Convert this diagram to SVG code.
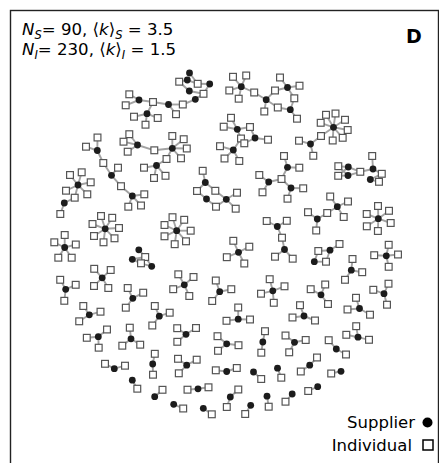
<svg xmlns="http://www.w3.org/2000/svg" xmlns:xlink="http://www.w3.org/1999/xlink" width="439" height="463" viewBox="0 0 439 463">
<style>
.t{font-family:"DejaVu Sans","Liberation Sans",sans-serif;fill:#000}
.h{font-size:16.6px}
.sub{font-size:11.5px;font-style:italic}
.it{font-style:italic}
.lg{font-size:16.5px}
.e path{stroke:#a3a3a3;stroke-width:1.9;fill:none}
</style>
<defs>
<rect id="q" x="-3.4" y="-3.4" width="6.8" height="6.8" fill="#fff" stroke="#555" stroke-width="1.2"/>
<circle id="c" r="3.4" fill="#1c1c1c"/>
</defs>
<rect x="0" y="0" width="439" height="463" fill="#fff"/>
<rect x="10.5" y="10.5" width="428" height="470" fill="none" stroke="#222" stroke-width="1.4"/>
<text class="t h" x="22" y="35"><tspan class="it">N</tspan><tspan class="sub" dy="3.5">S</tspan><tspan dy="-3.5">= 90, ⟨</tspan><tspan class="it">k</tspan><tspan>⟩</tspan><tspan class="sub" dy="3.5">S</tspan><tspan dy="-3.5"> = 3.5</tspan></text>
<text class="t h" x="22" y="55"><tspan class="it">N</tspan><tspan class="sub" dy="3.5">I</tspan><tspan dy="-3.5">= 230, ⟨</tspan><tspan class="it">k</tspan><tspan>⟩</tspan><tspan class="sub" dy="3.5">I</tspan><tspan dy="-3.5"> = 1.5</tspan></text>
<text class="t" x="406" y="43" font-size="19" font-weight="bold">D</text>
<g id="connectors" class="e">
<path d="M189.5 73L197.7 83.8"/><path d="M187.3 80L179.2 81.7"/><path d="M187.3 80L197.7 83.8"/><path d="M209.7 84L197.7 83.8"/><path d="M209.7 84L203.5 93.8"/><path d="M189.3 91L179.2 81.7"/><path d="M189.3 91L203.5 93.8"/><path d="M195.3 99.3L203.5 93.8"/><path d="M195.3 99.3L182.8 104.5"/><path d="M168.5 104.5L182.8 104.5"/><path d="M168.5 104.5L176 114.2"/><path d="M168.5 104.5L153 102"/><path d="M139 100L153 102"/><path d="M139 100L129.3 94.3"/><path d="M139 100L125.7 105.3"/><path d="M147 113.7L153 102"/><path d="M147 113.7L134 116.7"/><path d="M147 113.7L157.7 118"/><path d="M147 113.7L145.5 124.7"/>
<path d="M241.3 86.7L233 76.8"/><path d="M241.3 86.7L246.2 75.5"/><path d="M241.3 86.7L229.3 90.5"/><path d="M241.3 86.7L238.7 98.7"/><path d="M241.3 86.7L254.2 92.5"/><path d="M266.2 99.7L254.2 92.5"/><path d="M266.2 99.7L264.3 111.5"/><path d="M266.2 99.7L275 90.5"/><path d="M266.2 99.7L277.8 107.5"/><path d="M287.5 87.5L275 90.5"/><path d="M287.5 87.5L280 77.5"/><path d="M287.5 87.5L299.5 85.7"/><path d="M287.5 87.5L294.3 98.3"/><path d="M290.3 109.7L294.3 98.3"/><path d="M290.3 109.7L277.8 107.5"/><path d="M290.3 109.7L297 118.7"/>
<path d="M97.3 150.5L97.5 137.5"/><path d="M97.3 150.5L86 146.7"/><path d="M97.3 150.5L103.3 163"/><path d="M111.5 175.3L103.3 163"/><path d="M111.5 175.3L118 167.7"/><path d="M111.5 175.3L121 186.2"/><path d="M132.3 196L121 186.2"/><path d="M132.3 196L144.3 194.3"/><path d="M132.3 196L128.3 206.7"/><path d="M132.3 196L141 205.5"/>
<path d="M137.5 145L129.3 134.2"/><path d="M137.5 145L123.5 141.7"/><path d="M137.5 145L127.7 151.7"/><path d="M137.5 145L154.3 150.3"/><path d="M172.3 148.3L154.3 150.3"/><path d="M172.3 148.3L166.5 159"/><path d="M172.3 148.3L172.3 136"/><path d="M172.3 148.3L183.7 139.2"/><path d="M172.3 148.3L186.8 148.5"/><path d="M172.3 148.3L181 158.3"/><path d="M156.5 165.5L166.5 159"/><path d="M156.5 165.5L144 167.7"/><path d="M156.5 165.5L154 178"/><path d="M156.5 165.5L165.5 175.8"/>
<path d="M78 185L70 175"/><path d="M78 185L81.7 172.3"/><path d="M78 185L90.7 182.3"/><path d="M78 185L66 190.7"/><path d="M78 185L87.3 194.3"/><path d="M78 185L74.7 197.7"/><path d="M64.3 203L74.7 197.7"/><path d="M64.3 203L60.3 214"/>
<path d="M105.2 228.8L101 216"/><path d="M105.2 228.8L112.2 217.8"/><path d="M105.2 228.8L92.5 224"/><path d="M105.2 228.8L119 228"/><path d="M105.2 228.8L94 236"/><path d="M105.2 228.8L114.5 238.3"/><path d="M105.2 228.8L103.5 242.3"/>
<path d="M64.7 247.5L64.7 235"/><path d="M64.7 247.5L54.3 242.3"/><path d="M64.7 247.5L75.8 244.5"/><path d="M64.7 247.5L58.3 257.7"/><path d="M64.7 247.5L71.7 257.7"/>
<path d="M237.3 129.3L231 117.8"/><path d="M237.3 129.3L223.7 126.7"/><path d="M237.3 129.3L250 127"/><path d="M237.3 129.3L241 138.5"/><path d="M255 138L250 127"/><path d="M255 138L244.3 143.3"/><path d="M255 138L268 139.7"/><path d="M233.3 150L241 138.5"/><path d="M233.3 150L220 146.2"/><path d="M233.3 150L224.5 158.5"/><path d="M233.3 150L239.3 161"/>
<path d="M310.5 144L299 140.7"/><path d="M310.5 144L313.3 155.8"/><path d="M310.5 144L321 136"/><path d="M333.5 127.3L320.7 122.8"/><path d="M333.5 127.3L326 114.8"/><path d="M333.5 127.3L335.5 113.5"/><path d="M333.5 127.3L345 119.8"/><path d="M333.5 127.3L347.7 130"/><path d="M333.5 127.3L342.7 137.8"/><path d="M333.5 127.3L332.7 140.5"/><path d="M333.5 127.3L321 136"/>
<path d="M348.3 167L338.3 166.2"/><path d="M348.3 167L338.2 175.8"/><path d="M348.3 167L360.3 171.8"/><path d="M348 175.5L338.3 166.2"/><path d="M348 175.5L338.2 175.8"/><path d="M348 175.5L360.3 171.8"/><path d="M373 169L360.3 171.8"/><path d="M373 169L372.2 156"/><path d="M373 169L381.8 173.8"/><path d="M370.3 179.5L381.8 173.8"/><path d="M370.3 179.5L379 181.8"/>
<path d="M205.3 182.5L202.7 170.8"/><path d="M205.3 182.5L197 191"/><path d="M205.3 182.5L215.3 190.8"/><path d="M206.5 199L197 191"/><path d="M206.5 199L216 206.7"/><path d="M226.3 199.3L215.3 190.8"/><path d="M226.3 199.3L237 192.7"/><path d="M226.3 199.3L216 206.7"/><path d="M226.3 199.3L235.7 208.7"/>
<path d="M287.5 167.3L284 156"/><path d="M287.5 167.3L299.3 167.7"/><path d="M287.5 167.3L281.5 179"/><path d="M268.7 182L259.3 175"/><path d="M268.7 182L281.5 179"/><path d="M268.7 182L262.5 192.3"/><path d="M291 188L281.5 179"/><path d="M291 188L303.2 188.3"/><path d="M291 188L287.5 198.7"/>
<path d="M337.3 206.7L330.2 196.5"/><path d="M337.3 206.7L348 201.5"/><path d="M337.3 206.7L327.2 213"/><path d="M337.3 206.7L343.7 217"/><path d="M317.3 219L327.2 213"/><path d="M317.3 219L308 212.2"/><path d="M317.3 219L316.2 230.5"/>
<path d="M378.3 218.7L378 206"/><path d="M378.3 218.7L389 210.8"/><path d="M378.3 218.7L366.7 214"/><path d="M378.3 218.7L390.7 223"/><path d="M378.3 218.7L366.8 226.3"/><path d="M378.3 218.7L377.9 231"/>
<path d="M277.3 226.5L266.7 221"/><path d="M277.3 226.5L286.8 220.8"/><path d="M277.3 226.5L282 237.7"/><path d="M284.5 249.5L282 237.7"/><path d="M284.5 249.5L275 256.7"/><path d="M284.5 249.5L292.7 258.7"/>
<path d="M176.7 230.7L172.5 217.2"/><path d="M176.7 230.7L184.2 219.8"/><path d="M176.7 230.7L164.5 225"/><path d="M176.7 230.7L190.7 230.7"/><path d="M176.7 230.7L164.5 236.3"/><path d="M176.7 230.7L186 241.3"/><path d="M176.7 230.7L174.7 244.2"/>
<path d="M138.8 249.8L145.2 257"/><path d="M132.3 259.3L141 263.3"/><path d="M132.3 259.3L145.2 257"/><path d="M151.7 266.3L145.2 257"/><path d="M151.7 266.3L141 263.3"/>
<path d="M238.5 252.3L233.3 240.8"/><path d="M238.5 252.3L249.3 246.7"/><path d="M238.5 252.3L226.8 257.2"/><path d="M238.5 252.3L244.3 263.5"/>
<path d="M330 250.2L318.3 251"/><path d="M330 250.2L339.5 244"/><path d="M330 250.2L326 261.7"/><path d="M314.3 261.7L326 261.7"/><path d="M314.3 261.7L318.3 251"/>
<path d="M102.2 277.8L94.2 268.8"/><path d="M102.2 277.8L110.7 270"/><path d="M102.2 277.8L94 286"/><path d="M102.2 277.8L108.3 288"/>
<path d="M65.7 289.3L60.2 279.8"/><path d="M65.7 289.3L75.7 284.8"/><path d="M65.7 289.3L64.3 300.8"/>
<path d="M132.8 298.3L127.7 288"/><path d="M132.8 298.3L143.2 292.7"/><path d="M132.8 298.3L125.8 307.7"/>
<path d="M89.3 314.8L83.3 306"/><path d="M89.3 314.8L100.5 311.7"/><path d="M89.3 314.8L79.2 321.3"/>
<path d="M159.3 316.2L154.8 306"/><path d="M159.3 316.2L169.7 312.7"/><path d="M159.3 316.2L152.3 325.5"/>
<path d="M98.3 336.7L107 329.5"/><path d="M98.3 336.7L86.8 337.8"/><path d="M98.3 336.7L98.7 347.7"/>
<path d="M131 338.8L129.8 327.7"/><path d="M131 338.8L140.2 344.7"/><path d="M131 338.8L122.3 345.7"/>
<path d="M114.3 368.7L105 363.8"/><path d="M114.3 368.7L125 365.7"/>
<path d="M152.7 364L154.8 353.8"/><path d="M152.7 364L153 374.7"/>
<path d="M132.3 380.2L137.3 388.7"/><path d="M154.7 396.7L162.5 389.8"/>
<path d="M184.3 284.8L178.3 274.3"/><path d="M184.3 284.8L193.5 277"/><path d="M184.3 284.8L173.2 289.2"/><path d="M184.3 284.8L189.3 296"/>
<path d="M219.7 291.7L215.8 280.5"/><path d="M219.7 291.7L231.3 289.2"/><path d="M219.7 291.7L212.2 301"/>
<path d="M272.8 290.8L269.7 279.2"/><path d="M272.8 290.8L284.5 286.3"/><path d="M272.8 290.8L261 293.7"/><path d="M272.8 290.8L273.8 302.8"/>
<path d="M238.2 319.2L238.2 307.5"/><path d="M238.2 319.2L226.5 320.8"/><path d="M238.2 319.2L250 319.5"/>
<path d="M186 334.3L177.2 328.2"/><path d="M186 334.3L196 328"/><path d="M186 334.3L177.3 341.8"/>
<path d="M226.7 343.8L217.5 336.2"/><path d="M226.7 343.8L238.5 345.2"/><path d="M226.7 343.8L218 350.8"/>
<path d="M262.8 342L265 331.2"/><path d="M262.8 342L261.3 352.7"/>
<path d="M294.5 342.3L285.5 335.5"/><path d="M294.5 342.3L305.7 340"/><path d="M294.5 342.3L289.2 352.3"/>
<path d="M186.7 365.2L178 358.8"/><path d="M186.7 365.2L196.7 359.7"/><path d="M186.7 365.2L178.8 373.3"/>
<path d="M226.7 371.5L215.8 370.3"/><path d="M226.7 371.5L236.8 368"/>
<path d="M253.5 372L261.2 379"/><path d="M277.5 368.2L281.3 377.7"/>
<path d="M198 388.8L187.5 389.7"/><path d="M198 388.8L208.5 387.3"/>
<path d="M230.3 397L238.3 389.5"/><path d="M230.3 397L226.8 407"/>
<path d="M267 396.2L268.7 406.7"/><path d="M173.7 404.3L183.2 408.5"/><path d="M203.3 408.3L211.8 414.3"/><path d="M250.7 405.3L245.2 414"/><path d="M292.2 394L285.5 401.7"/>
<path d="M304 316L300 305.2"/><path d="M304 316L292.5 317.5"/><path d="M304 316L315 320.5"/>
<path d="M321 294.8L325.2 284.5"/><path d="M321 294.8L310.7 289.2"/><path d="M321 294.8L328 304"/>
<path d="M359.5 308.5L356 297.8"/><path d="M359.5 308.5L347.5 309.5"/><path d="M359.5 308.5L370 314.7"/>
<path d="M384 293.7L388.5 283.7"/><path d="M384 293.7L373.3 289.8"/><path d="M384 293.7L387 304.7"/>
<path d="M351.3 270.2L352.5 259"/><path d="M351.3 270.2L362.2 272.2"/><path d="M351.3 270.2L345 279.8"/>
<path d="M386.3 255.8L374.2 255.2"/><path d="M386.3 255.8L398 254.5"/><path d="M386.3 255.8L388.7 266.8"/><path d="M386.3 255.8L388.7 244.8"/>
<path d="M336.3 349L328.7 340.2"/><path d="M336.3 349L346 354.5"/>
<path d="M358 337.2L356.2 326.2"/><path d="M358 337.2L346.3 334.8"/><path d="M358 337.2L369 339.8"/>
<path d="M309.7 365.2L317 357.5"/><path d="M309.7 365.2L300.8 371.5"/>
<path d="M341 371.3L331.2 373.5"/><path d="M317.7 386.7L308.2 391"/>
</g>
<g id="individuals">
<g id="i1"><use href="#q" x="179.2" y="81.7"/></g><g id="i2"><use href="#q" x="197.7" y="83.8"/></g><g id="i3"><use href="#q" x="203.5" y="93.8"/></g><g id="i4"><use href="#q" x="182.8" y="104.5"/></g><g id="i5"><use href="#q" x="176" y="114.2"/></g><g id="i6"><use href="#q" x="153" y="102"/></g><g id="i7"><use href="#q" x="129.3" y="94.3"/></g><g id="i8"><use href="#q" x="125.7" y="105.3"/></g><g id="i9"><use href="#q" x="134" y="116.7"/></g><g id="i10"><use href="#q" x="157.7" y="118"/></g><g id="i11"><use href="#q" x="145.5" y="124.7"/></g>
<g id="i12"><use href="#q" x="233" y="76.8"/></g><g id="i13"><use href="#q" x="246.2" y="75.5"/></g><g id="i14"><use href="#q" x="229.3" y="90.5"/></g><g id="i15"><use href="#q" x="238.7" y="98.7"/></g><g id="i16"><use href="#q" x="254.2" y="92.5"/></g><g id="i17"><use href="#q" x="264.3" y="111.5"/></g><g id="i18"><use href="#q" x="275" y="90.5"/></g><g id="i19"><use href="#q" x="280" y="77.5"/></g><g id="i20"><use href="#q" x="299.5" y="85.7"/></g><g id="i21"><use href="#q" x="294.3" y="98.3"/></g><g id="i22"><use href="#q" x="277.8" y="107.5"/></g><g id="i23"><use href="#q" x="297" y="118.7"/></g>
<g id="i24"><use href="#q" x="97.5" y="137.5"/></g><g id="i25"><use href="#q" x="86" y="146.7"/></g><g id="i26"><use href="#q" x="103.3" y="163"/></g><g id="i27"><use href="#q" x="118" y="167.7"/></g><g id="i28"><use href="#q" x="121" y="186.2"/></g><g id="i29"><use href="#q" x="144.3" y="194.3"/></g><g id="i30"><use href="#q" x="128.3" y="206.7"/></g><g id="i31"><use href="#q" x="141" y="205.5"/></g>
<g id="i32"><use href="#q" x="129.3" y="134.2"/></g><g id="i33"><use href="#q" x="123.5" y="141.7"/></g><g id="i34"><use href="#q" x="127.7" y="151.7"/></g><g id="i35"><use href="#q" x="154.3" y="150.3"/></g><g id="i36"><use href="#q" x="144" y="167.7"/></g><g id="i37"><use href="#q" x="154" y="178"/></g><g id="i38"><use href="#q" x="165.5" y="175.8"/></g><g id="i39"><use href="#q" x="166.5" y="159"/></g><g id="i40"><use href="#q" x="172.3" y="136"/></g><g id="i41"><use href="#q" x="183.7" y="139.2"/></g><g id="i42"><use href="#q" x="186.8" y="148.5"/></g><g id="i43"><use href="#q" x="181" y="158.3"/></g>
<g id="i44"><use href="#q" x="70" y="175"/></g><g id="i45"><use href="#q" x="81.7" y="172.3"/></g><g id="i46"><use href="#q" x="90.7" y="182.3"/></g><g id="i47"><use href="#q" x="66" y="190.7"/></g><g id="i48"><use href="#q" x="87.3" y="194.3"/></g><g id="i49"><use href="#q" x="74.7" y="197.7"/></g><g id="i50"><use href="#q" x="60.3" y="214"/></g>
<g id="i51"><use href="#q" x="101" y="216"/></g><g id="i52"><use href="#q" x="112.2" y="217.8"/></g><g id="i53"><use href="#q" x="92.5" y="224"/></g><g id="i54"><use href="#q" x="119" y="228"/></g><g id="i55"><use href="#q" x="94" y="236"/></g><g id="i56"><use href="#q" x="114.5" y="238.3"/></g><g id="i57"><use href="#q" x="103.5" y="242.3"/></g>
<g id="i58"><use href="#q" x="64.7" y="235"/></g><g id="i59"><use href="#q" x="54.3" y="242.3"/></g><g id="i60"><use href="#q" x="75.8" y="244.5"/></g><g id="i61"><use href="#q" x="58.3" y="257.7"/></g><g id="i62"><use href="#q" x="71.7" y="257.7"/></g>
<g id="i63"><use href="#q" x="231" y="117.8"/></g><g id="i64"><use href="#q" x="223.7" y="126.7"/></g><g id="i65"><use href="#q" x="250" y="127"/></g><g id="i66"><use href="#q" x="241" y="138.5"/></g><g id="i67"><use href="#q" x="244.3" y="143.3"/></g><g id="i68"><use href="#q" x="268" y="139.7"/></g><g id="i69"><use href="#q" x="220" y="146.2"/></g><g id="i70"><use href="#q" x="224.5" y="158.5"/></g><g id="i71"><use href="#q" x="239.3" y="161"/></g>
<g id="i72"><use href="#q" x="299" y="140.7"/></g><g id="i73"><use href="#q" x="313.3" y="155.8"/></g><g id="i74"><use href="#q" x="321" y="136"/></g><g id="i75"><use href="#q" x="320.7" y="122.8"/></g><g id="i76"><use href="#q" x="326" y="114.8"/></g><g id="i77"><use href="#q" x="335.5" y="113.5"/></g><g id="i78"><use href="#q" x="345" y="119.8"/></g><g id="i79"><use href="#q" x="347.7" y="130"/></g><g id="i80"><use href="#q" x="342.7" y="137.8"/></g><g id="i81"><use href="#q" x="332.7" y="140.5"/></g>
<g id="i82"><use href="#q" x="338.3" y="166.2"/></g><g id="i83"><use href="#q" x="338.2" y="175.8"/></g><g id="i84"><use href="#q" x="360.3" y="171.8"/></g><g id="i85"><use href="#q" x="372.2" y="156"/></g><g id="i86"><use href="#q" x="381.8" y="173.8"/></g><g id="i87"><use href="#q" x="379" y="181.8"/></g>
<g id="i88"><use href="#q" x="202.7" y="170.8"/></g><g id="i89"><use href="#q" x="197" y="191"/></g><g id="i90"><use href="#q" x="215.3" y="190.8"/></g><g id="i91"><use href="#q" x="237" y="192.7"/></g><g id="i92"><use href="#q" x="216" y="206.7"/></g><g id="i93"><use href="#q" x="235.7" y="208.7"/></g>
<g id="i94"><use href="#q" x="284" y="156"/></g><g id="i95"><use href="#q" x="299.3" y="167.7"/></g><g id="i96"><use href="#q" x="259.3" y="175"/></g><g id="i97"><use href="#q" x="281.5" y="179"/></g><g id="i98"><use href="#q" x="262.5" y="192.3"/></g><g id="i99"><use href="#q" x="303.2" y="188.3"/></g><g id="i100"><use href="#q" x="287.5" y="198.7"/></g>
<g id="i101"><use href="#q" x="330.2" y="196.5"/></g><g id="i102"><use href="#q" x="348" y="201.5"/></g><g id="i103"><use href="#q" x="327.2" y="213"/></g><g id="i104"><use href="#q" x="343.7" y="217"/></g><g id="i105"><use href="#q" x="308" y="212.2"/></g><g id="i106"><use href="#q" x="316.2" y="230.5"/></g>
<g id="i107"><use href="#q" x="378" y="206"/></g><g id="i108"><use href="#q" x="389" y="210.8"/></g><g id="i109"><use href="#q" x="366.7" y="214"/></g><g id="i110"><use href="#q" x="390.7" y="223"/></g><g id="i111"><use href="#q" x="366.8" y="226.3"/></g><g id="i112"><use href="#q" x="377.9" y="231"/></g>
<g id="i113"><use href="#q" x="266.7" y="221"/></g><g id="i114"><use href="#q" x="286.8" y="220.8"/></g><g id="i115"><use href="#q" x="282" y="237.7"/></g><g id="i116"><use href="#q" x="275" y="256.7"/></g><g id="i117"><use href="#q" x="292.7" y="258.7"/></g>
<g id="i118"><use href="#q" x="172.5" y="217.2"/></g><g id="i119"><use href="#q" x="184.2" y="219.8"/></g><g id="i120"><use href="#q" x="164.5" y="225"/></g><g id="i121"><use href="#q" x="190.7" y="230.7"/></g><g id="i122"><use href="#q" x="164.5" y="236.3"/></g><g id="i123"><use href="#q" x="186" y="241.3"/></g><g id="i124"><use href="#q" x="174.7" y="244.2"/></g>
<g id="i125"><use href="#q" x="145.2" y="257"/></g><g id="i126"><use href="#q" x="141" y="263.3"/></g>
<g id="i127"><use href="#q" x="233.3" y="240.8"/></g><g id="i128"><use href="#q" x="249.3" y="246.7"/></g><g id="i129"><use href="#q" x="226.8" y="257.2"/></g><g id="i130"><use href="#q" x="244.3" y="263.5"/></g>
<g id="i131"><use href="#q" x="318.3" y="251"/></g><g id="i132"><use href="#q" x="339.5" y="244"/></g><g id="i133"><use href="#q" x="326" y="261.7"/></g>
<g id="i134"><use href="#q" x="94.2" y="268.8"/></g><g id="i135"><use href="#q" x="110.7" y="270"/></g><g id="i136"><use href="#q" x="94" y="286"/></g><g id="i137"><use href="#q" x="108.3" y="288"/></g>
<g id="i138"><use href="#q" x="60.2" y="279.8"/></g><g id="i139"><use href="#q" x="75.7" y="284.8"/></g><g id="i140"><use href="#q" x="64.3" y="300.8"/></g>
<g id="i141"><use href="#q" x="127.7" y="288"/></g><g id="i142"><use href="#q" x="143.2" y="292.7"/></g><g id="i143"><use href="#q" x="125.8" y="307.7"/></g>
<g id="i144"><use href="#q" x="83.3" y="306"/></g><g id="i145"><use href="#q" x="100.5" y="311.7"/></g><g id="i146"><use href="#q" x="79.2" y="321.3"/></g>
<g id="i147"><use href="#q" x="154.8" y="306"/></g><g id="i148"><use href="#q" x="169.7" y="312.7"/></g><g id="i149"><use href="#q" x="152.3" y="325.5"/></g>
<g id="i150"><use href="#q" x="107" y="329.5"/></g><g id="i151"><use href="#q" x="86.8" y="337.8"/></g><g id="i152"><use href="#q" x="98.7" y="347.7"/></g>
<g id="i153"><use href="#q" x="129.8" y="327.7"/></g><g id="i154"><use href="#q" x="140.2" y="344.7"/></g><g id="i155"><use href="#q" x="122.3" y="345.7"/></g>
<g id="i156"><use href="#q" x="105" y="363.8"/></g><g id="i157"><use href="#q" x="125" y="365.7"/></g>
<g id="i158"><use href="#q" x="154.8" y="353.8"/></g><g id="i159"><use href="#q" x="153" y="374.7"/></g>
<g id="i160"><use href="#q" x="137.3" y="388.7"/></g><g id="i161"><use href="#q" x="162.5" y="389.8"/></g>
<g id="i162"><use href="#q" x="178.3" y="274.3"/></g><g id="i163"><use href="#q" x="193.5" y="277"/></g><g id="i164"><use href="#q" x="173.2" y="289.2"/></g><g id="i165"><use href="#q" x="189.3" y="296"/></g>
<g id="i166"><use href="#q" x="215.8" y="280.5"/></g><g id="i167"><use href="#q" x="231.3" y="289.2"/></g><g id="i168"><use href="#q" x="212.2" y="301"/></g>
<g id="i169"><use href="#q" x="269.7" y="279.2"/></g><g id="i170"><use href="#q" x="284.5" y="286.3"/></g><g id="i171"><use href="#q" x="261" y="293.7"/></g><g id="i172"><use href="#q" x="273.8" y="302.8"/></g>
<g id="i173"><use href="#q" x="238.2" y="307.5"/></g><g id="i174"><use href="#q" x="226.5" y="320.8"/></g><g id="i175"><use href="#q" x="250" y="319.5"/></g>
<g id="i176"><use href="#q" x="177.2" y="328.2"/></g><g id="i177"><use href="#q" x="196" y="328"/></g><g id="i178"><use href="#q" x="177.3" y="341.8"/></g>
<g id="i179"><use href="#q" x="217.5" y="336.2"/></g><g id="i180"><use href="#q" x="238.5" y="345.2"/></g><g id="i181"><use href="#q" x="218" y="350.8"/></g>
<g id="i182"><use href="#q" x="265" y="331.2"/></g><g id="i183"><use href="#q" x="261.3" y="352.7"/></g>
<g id="i184"><use href="#q" x="285.5" y="335.5"/></g><g id="i185"><use href="#q" x="305.7" y="340"/></g><g id="i186"><use href="#q" x="289.2" y="352.3"/></g>
<g id="i187"><use href="#q" x="178" y="358.8"/></g><g id="i188"><use href="#q" x="196.7" y="359.7"/></g><g id="i189"><use href="#q" x="178.8" y="373.3"/></g>
<g id="i190"><use href="#q" x="215.8" y="370.3"/></g><g id="i191"><use href="#q" x="236.8" y="368"/></g>
<g id="i192"><use href="#q" x="261.2" y="379"/></g><g id="i193"><use href="#q" x="281.3" y="377.7"/></g>
<g id="i194"><use href="#q" x="187.5" y="389.7"/></g><g id="i195"><use href="#q" x="208.5" y="387.3"/></g>
<g id="i196"><use href="#q" x="238.3" y="389.5"/></g><g id="i197"><use href="#q" x="226.8" y="407"/></g>
<g id="i198"><use href="#q" x="268.7" y="406.7"/></g><g id="i199"><use href="#q" x="183.2" y="408.5"/></g><g id="i200"><use href="#q" x="211.8" y="414.3"/></g><g id="i201"><use href="#q" x="245.2" y="414"/></g><g id="i202"><use href="#q" x="285.5" y="401.7"/></g>
<g id="i203"><use href="#q" x="300" y="305.2"/></g><g id="i204"><use href="#q" x="292.5" y="317.5"/></g><g id="i205"><use href="#q" x="315" y="320.5"/></g>
<g id="i206"><use href="#q" x="325.2" y="284.5"/></g><g id="i207"><use href="#q" x="310.7" y="289.2"/></g><g id="i208"><use href="#q" x="328" y="304"/></g>
<g id="i209"><use href="#q" x="356" y="297.8"/></g><g id="i210"><use href="#q" x="347.5" y="309.5"/></g><g id="i211"><use href="#q" x="370" y="314.7"/></g>
<g id="i212"><use href="#q" x="388.5" y="283.7"/></g><g id="i213"><use href="#q" x="373.3" y="289.8"/></g><g id="i214"><use href="#q" x="387" y="304.7"/></g>
<g id="i215"><use href="#q" x="352.5" y="259"/></g><g id="i216"><use href="#q" x="362.2" y="272.2"/></g><g id="i217"><use href="#q" x="345" y="279.8"/></g>
<g id="i218"><use href="#q" x="374.2" y="255.2"/></g><g id="i219"><use href="#q" x="398" y="254.5"/></g><g id="i220"><use href="#q" x="388.7" y="266.8"/></g><g id="i221"><use href="#q" x="388.7" y="244.8"/></g>
<g id="i222"><use href="#q" x="328.7" y="340.2"/></g><g id="i223"><use href="#q" x="346" y="354.5"/></g>
<g id="i224"><use href="#q" x="356.2" y="326.2"/></g><g id="i225"><use href="#q" x="346.3" y="334.8"/></g><g id="i226"><use href="#q" x="369" y="339.8"/></g>
<g id="i227"><use href="#q" x="317" y="357.5"/></g><g id="i228"><use href="#q" x="300.8" y="371.5"/></g>
<g id="i229"><use href="#q" x="331.2" y="373.5"/></g><g id="i230"><use href="#q" x="308.2" y="391"/></g>
</g>
<g id="suppliers">
<g id="s1"><use href="#c" x="189.5" y="73"/></g><g id="s2"><use href="#c" x="187.3" y="80"/></g><g id="s3"><use href="#c" x="189.3" y="91"/></g><g id="s4"><use href="#c" x="195.3" y="99.3"/></g><g id="s5"><use href="#c" x="209.7" y="84"/></g><g id="s6"><use href="#c" x="168.5" y="104.5"/></g><g id="s7"><use href="#c" x="139" y="100"/></g><g id="s8"><use href="#c" x="147" y="113.7"/></g>
<g id="s9"><use href="#c" x="241.3" y="86.7"/></g><g id="s10"><use href="#c" x="266.2" y="99.7"/></g><g id="s11"><use href="#c" x="287.5" y="87.5"/></g><g id="s12"><use href="#c" x="290.3" y="109.7"/></g>
<g id="s13"><use href="#c" x="97.3" y="150.5"/></g><g id="s14"><use href="#c" x="111.5" y="175.3"/></g><g id="s15"><use href="#c" x="132.3" y="196"/></g>
<g id="s16"><use href="#c" x="137.5" y="145"/></g><g id="s17"><use href="#c" x="156.5" y="165.5"/></g><g id="s18"><use href="#c" x="172.3" y="148.3"/></g>
<g id="s19"><use href="#c" x="78" y="185"/></g><g id="s20"><use href="#c" x="64.3" y="203"/></g>
<g id="s21"><use href="#c" x="105.2" y="228.8"/></g><g id="s22"><use href="#c" x="64.7" y="247.5"/></g>
<g id="s23"><use href="#c" x="237.3" y="129.3"/></g><g id="s24"><use href="#c" x="255" y="138"/></g><g id="s25"><use href="#c" x="233.3" y="150"/></g>
<g id="s26"><use href="#c" x="310.5" y="144"/></g><g id="s27"><use href="#c" x="333.5" y="127.3"/></g>
<g id="s28"><use href="#c" x="348.3" y="167"/></g><g id="s29"><use href="#c" x="348" y="175.5"/></g><g id="s30"><use href="#c" x="373" y="169"/></g><g id="s31"><use href="#c" x="370.3" y="179.5"/></g>
<g id="s32"><use href="#c" x="205.3" y="182.5"/></g><g id="s33"><use href="#c" x="206.5" y="199"/></g><g id="s34"><use href="#c" x="226.3" y="199.3"/></g>
<g id="s35"><use href="#c" x="287.5" y="167.3"/></g><g id="s36"><use href="#c" x="268.7" y="182"/></g><g id="s37"><use href="#c" x="291" y="188"/></g>
<g id="s38"><use href="#c" x="337.3" y="206.7"/></g><g id="s39"><use href="#c" x="317.3" y="219"/></g>
<g id="s40"><use href="#c" x="378.3" y="218.7"/></g>
<g id="s41"><use href="#c" x="277.3" y="226.5"/></g><g id="s42"><use href="#c" x="284.5" y="249.5"/></g>
<g id="s43"><use href="#c" x="176.7" y="230.7"/></g>
<g id="s44"><use href="#c" x="138.8" y="249.8"/></g><g id="s45"><use href="#c" x="132.3" y="259.3"/></g><g id="s46"><use href="#c" x="151.7" y="266.3"/></g>
<g id="s47"><use href="#c" x="238.5" y="252.3"/></g>
<g id="s48"><use href="#c" x="330" y="250.2"/></g><g id="s49"><use href="#c" x="314.3" y="261.7"/></g>
<g id="s50"><use href="#c" x="102.2" y="277.8"/></g><g id="s51"><use href="#c" x="65.7" y="289.3"/></g><g id="s52"><use href="#c" x="132.8" y="298.3"/></g><g id="s53"><use href="#c" x="89.3" y="314.8"/></g><g id="s54"><use href="#c" x="159.3" y="316.2"/></g><g id="s55"><use href="#c" x="98.3" y="336.7"/></g><g id="s56"><use href="#c" x="131" y="338.8"/></g><g id="s57"><use href="#c" x="114.3" y="368.7"/></g><g id="s58"><use href="#c" x="152.7" y="364"/></g><g id="s59"><use href="#c" x="132.3" y="380.2"/></g><g id="s60"><use href="#c" x="154.7" y="396.7"/></g>
<g id="s61"><use href="#c" x="184.3" y="284.8"/></g><g id="s62"><use href="#c" x="219.7" y="291.7"/></g><g id="s63"><use href="#c" x="272.8" y="290.8"/></g><g id="s64"><use href="#c" x="238.2" y="319.2"/></g><g id="s65"><use href="#c" x="186" y="334.3"/></g><g id="s66"><use href="#c" x="226.7" y="343.8"/></g><g id="s67"><use href="#c" x="262.8" y="342"/></g><g id="s68"><use href="#c" x="294.5" y="342.3"/></g><g id="s69"><use href="#c" x="186.7" y="365.2"/></g><g id="s70"><use href="#c" x="226.7" y="371.5"/></g>
<g id="s71"><use href="#c" x="253.5" y="372"/></g><g id="s72"><use href="#c" x="277.5" y="368.2"/></g><g id="s73"><use href="#c" x="198" y="388.8"/></g><g id="s74"><use href="#c" x="230.3" y="397"/></g><g id="s75"><use href="#c" x="267" y="396.2"/></g><g id="s76"><use href="#c" x="173.7" y="404.3"/></g><g id="s77"><use href="#c" x="203.3" y="408.3"/></g><g id="s78"><use href="#c" x="250.7" y="405.3"/></g><g id="s79"><use href="#c" x="292.2" y="394"/></g>
<g id="s80"><use href="#c" x="304" y="316"/></g><g id="s81"><use href="#c" x="321" y="294.8"/></g><g id="s82"><use href="#c" x="359.5" y="308.5"/></g><g id="s83"><use href="#c" x="384" y="293.7"/></g><g id="s84"><use href="#c" x="351.3" y="270.2"/></g><g id="s85"><use href="#c" x="386.3" y="255.8"/></g><g id="s86"><use href="#c" x="336.3" y="349"/></g><g id="s87"><use href="#c" x="358" y="337.2"/></g><g id="s88"><use href="#c" x="309.7" y="365.2"/></g><g id="s89"><use href="#c" x="341" y="371.3"/></g><g id="s90"><use href="#c" x="317.7" y="386.7"/></g>
</g>
<g id="legend">
<text class="t lg" x="415" y="428" text-anchor="end">Supplier</text>
<circle cx="427.5" cy="422.5" r="5" fill="#000"/>
<text class="t lg" x="412" y="450.5" text-anchor="end">Individual</text>
<rect x="423" y="440" width="10" height="10" fill="#fff" stroke="#000" stroke-width="1.5"/>
</g>
</svg>
